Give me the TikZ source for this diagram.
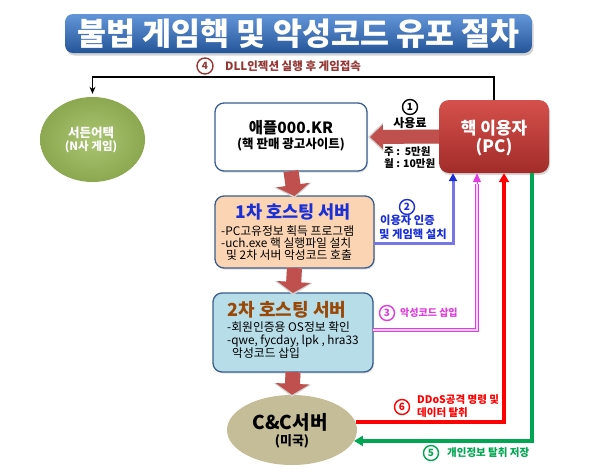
\documentclass[tikz,border=0pt]{standalone}
\usepackage{fontspec}
\setmainfont{Noto Sans CJK KR}
\usetikzlibrary{arrows.meta,shadows,shapes.geometric,calc}
\definecolor{titleTop}{HTML}{6396D8}
\definecolor{titleBot}{HTML}{245599}
\definecolor{boxline}{HTML}{3A5F8E}
\definecolor{peach}{HTML}{FBD4B4}
\definecolor{lblue}{HTML}{B7DDE8}
\definecolor{blockred}{HTML}{C0504D}
\definecolor{hackTop}{HTML}{D5504C}
\definecolor{hackBot}{HTML}{A22C29}
\definecolor{gameGreen}{HTML}{9BBB59}
\definecolor{khaki}{HTML}{C4BD97}
\definecolor{darkred}{HTML}{953735}
\definecolor{lineblue}{HTML}{7676E6}
\definecolor{txtblue}{HTML}{1A2FD6}
\definecolor{mag}{HTML}{E03CE0}
\definecolor{brn}{HTML}{984807}
\definecolor{grn}{HTML}{00A651}
\definecolor{pured}{HTML}{FF0000}
\tikzset{
  box/.style={draw=boxline, line width=1.3pt, rounded corners=9pt, inner sep=0pt, outer sep=0pt,
    drop shadow={shadow xshift=1pt, shadow yshift=-1.5pt, opacity=0.25}},
  blockarrow/.style={draw=blockred, line width=15pt, -{Triangle[width=33pt,length=11pt]}},
  blockglow/.style={draw=gray!35, line width=15pt, -{Triangle[width=37pt,length=13pt]}},
  num/.style={circle, draw, line width=1.4pt, minimum size=15pt, inner sep=0pt,
    font=\fontsize{10}{10}\selectfont\bfseries},
  lbl/.style={inner sep=0pt, font=\fontsize{12}{13}\selectfont\bfseries},
  item/.style={inner sep=0pt, anchor=west, font=\fontsize{11.8}{13}\selectfont},
  head/.style={inner sep=0pt, font=\fontsize{17.5}{19}\selectfont\bfseries},
}
\begin{document}
\begin{tikzpicture}[x=1pt,y=-1pt]
\useasboundingbox (0,0) rectangle (600,475);
\fill[white] (0,0) rectangle (600,475);

% title
\node[rounded corners=8pt, top color=titleTop, bottom color=titleBot, minimum width=467pt, minimum height=39pt,
  inner sep=0pt, drop shadow={shadow xshift=1.5pt, shadow yshift=-2.5pt, opacity=0.35},
  text=white, font=\fontsize{31.5}{33}\selectfont\bfseries] (title) at (298.5,33.5) {불법 게임핵 및 악성코드 유포 절차};

% boxes
\node[box, fill=white, minimum width=152pt, minimum height=68pt] (apple) at (291,137) {};
\node[inner sep=0pt, font=\fontsize{15.5}{16}\selectfont\bfseries] (appleA) at (291,128) {애플000.KR};
\node[inner sep=0pt, font=\fontsize{12.5}{13}\selectfont\bfseries] (appleB) at (291,144) {(핵 판매 광고사이트)};

\node[rounded corners=10pt, top color=hackTop, bottom color=hackBot, minimum width=110pt, minimum height=73pt,
  inner sep=0pt, drop shadow={shadow xshift=1pt, shadow yshift=-2pt, opacity=0.3}] (hack) at (494,136.5) {};
\node[inner sep=0pt, text=white, font=\fontsize{17}{18}\selectfont\bfseries] (hackA) at (494,128) {핵 이용자};
\node[inner sep=0pt, text=white, font=\fontsize{17}{18}\selectfont\bfseries] (hackB) at (494,147) {(PC)};

\node[box, fill=peach, minimum width=159pt, minimum height=72pt] (host1) at (294.5,232) {};
\node[head, text=txtblue] (h1t) at (293,212) {1차 호스팅 서버};
\node[item] (h1a) at (221,231) {-PC고유정보 획득 프로그램};
\node[item] (h1b) at (221,243) {-uch.exe 핵 실행파일 설치};
\node[item] (h1c) at (226,255) {및 2차 서버 악성코드 호출};

\node[box, fill=lblue, minimum width=160pt, minimum height=79pt] (host2) at (293,332.5) {};
\node[head, text=brn, font=\fontsize{18}{20}\selectfont\bfseries] (h2t) at (287,310) {2차 호스팅 서버};
\node[item] (h2a) at (227,327) {-회원인증용 OS정보 확인};
\node[item] (h2b) at (227,341) {-qwe, fycday, lpk , hra33};
\node[item] (h2c) at (232,353) {악성코드 삽입};

\node[ellipse, fill=khaki, minimum width=130pt, minimum height=70pt, inner sep=0pt] (ccc) at (292,430) {};
\node[inner sep=0pt, font=\fontsize{19}{20}\selectfont\bfseries] (cccA) at (290,422) {C\&C서버};
\node[inner sep=0pt, font=\fontsize{13}{14}\selectfont\bfseries] (cccB) at (292,441) {(미국)};

\node[ellipse, inner color=gameGreen!85!white, outer color=gameGreen!90!black, minimum width=105pt, minimum height=85pt, inner sep=0pt] (game) at (92.5,139.5) {};
\node[inner sep=0pt, text=white, font=\fontsize{12.5}{13}\selectfont\bfseries] (gameA) at (91,133) {서든어택};
\node[inner sep=0pt, text=white, font=\fontsize{11.5}{12}\selectfont\bfseries] (gameB) at (91,147) {(N사 게임)};

% block arrows
\draw[blockglow] (apple.south) -- ([yshift=-2pt]host1.north);
\draw[blockarrow] (apple.south) -- (host1.north);
\draw[blockglow] (host1.south) -- ([yshift=-2pt]host2.north);
\draw[blockarrow] (host1.south) -- (host2.north);
\draw[blockglow] (host2.south) -- ([yshift=-2pt]ccc.north);
\draw[blockarrow] (host2.south) -- (ccc.north);
\draw[draw=gray!35, line width=14pt, -{Triangle[width=28pt,length=15pt]}, shorten >=1pt] (hack.west) -- (apple.east);
\draw[draw=blockred, line width=14pt, -{Triangle[width=24pt,length=13pt]}, shorten >=3pt] (hack.west) -- (apple.east);

% connector 4
\coordinate (c4) at (0,77);
\draw[line width=1.3pt, -{Stealth[length=7pt,width=6pt]}, shorten >=3pt] (hack.north) -- (hack.north |- c4) -- (game.north |- c4) -- (game.north);

% connector 2
\coordinate (c2) at (453,243);
\draw[draw=lineblue, line width=3pt, -{Triangle[width=8pt,length=8pt,color=txtblue]}] (host1.east |- c2) -| (c2 |- hack.south);

% connector 3
\coordinate (c3) at (477,330);
\coordinate (c3t) at (477,184);
\draw[draw=mag, double=mag!25!white, double distance=1.3pt, line width=1pt] (host2.east |- c3) -| (c3t);
\draw[draw=mag, line width=1pt, -{Triangle[width=8pt,length=9pt]}] (c3t) -- (c3t |- hack.south);

% connector 6
\coordinate (c6) at (504,300);
\draw[draw=pured, line width=3.5pt, -{Triangle[width=10pt,length=9pt]}] (ccc.7) -| (c6 |- hack.south);

% connector 5
\coordinate (c5) at (532,300);
\draw[draw=grn, line width=3.5pt, -{Triangle[width=10pt,length=9pt]}] (c5 |- hack.south) |- (ccc.-10);

% labels
\node[num, draw=black] (n1) at (410,107) {1};
\node[lbl] (l1) at (410,123) {사용료};
\node[lbl, anchor=west, font=\fontsize{10.5}{12}\selectfont\bfseries] (l1b) at (384,152) {주 :\ \ 5만원};
\node[lbl, anchor=west, font=\fontsize{10.5}{12}\selectfont\bfseries] (l1c) at (384,164) {월 : 10만원};

\node[num, draw=txtblue, text=txtblue] (n2) at (407,207) {2};
\node[lbl, anchor=west, text=txtblue, font=\fontsize{11.3}{12}\selectfont\bfseries] (l2a) at (380,220) {이용자 인증};
\node[lbl, anchor=west, text=txtblue, font=\fontsize{11.3}{12}\selectfont\bfseries] (l2b) at (379,234) {및 게임핵 설치};

\node[num, draw=mag, text=mag] (n3) at (387,313) {3};
\node[lbl, anchor=west, text=mag, font=\fontsize{10}{11}\selectfont\bfseries] (l3) at (400,313) {악성코드 삽입};

\node[num, draw=darkred, text=darkred, minimum size=16pt] (n4) at (205,66) {4};
\node[lbl, anchor=west, text=darkred, font=\fontsize{11.5}{12}\selectfont\bfseries] (l4) at (225,66) {DLL인젝션 실행 후 게임접속};

\node[num, draw=grn, text=grn] (n5) at (431,453) {5};
\node[lbl, anchor=west, text=grn, font=\fontsize{10.5}{11}\selectfont\bfseries] (l5) at (447,453) {개인정보 탈취 저장};

\node[num, draw=pured, text=pured] (n6) at (402,407) {6};
\node[lbl, anchor=west, text=pured, font=\fontsize{10.5}{11}\selectfont\bfseries] (l6a) at (417,400) {DDoS공격 명령 및};
\node[lbl, anchor=west, text=pured, font=\fontsize{10.5}{11}\selectfont\bfseries] (l6b) at (417,413) {데이터 탈취};
\end{tikzpicture}
\end{document}
